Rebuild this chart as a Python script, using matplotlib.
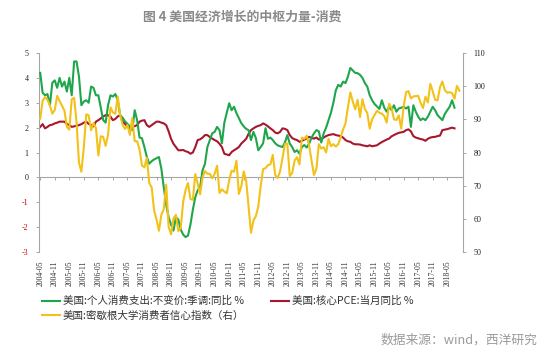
import matplotlib
matplotlib.use("Agg")
import matplotlib.pyplot as plt

# ---------------- data (monthly, starting 2004-05) ----------------
tick_labels = ["2004-05", "2004-11", "2005-05", "2005-11", "2006-05", "2006-11",
               "2007-05", "2007-11", "2008-05", "2008-11", "2009-05", "2009-11",
               "2010-05", "2010-11", "2011-05", "2011-11", "2012-05", "2012-11",
               "2013-05", "2013-11", "2014-05", "2014-11", "2015-05", "2015-11",
               "2016-05", "2016-11", "2017-05", "2017-11", "2018-05"]

# 美国:个人消费支出:不变价:季调:同比 %
pce_real = [4.20, 3.40, 3.30, 3.35, 2.90, 3.80, 3.90, 3.60, 4.00, 3.65,
            3.85, 3.45, 4.00, 3.30, 4.66, 4.66, 4.05, 2.90, 3.05, 3.10,
            3.00, 3.65, 3.60, 3.30, 3.30, 2.80, 2.30, 2.20, 2.90, 3.30,
            3.25, 3.35, 3.10, 2.50, 2.40, 2.25, 2.15, 2.05, 1.90, 2.70,
            2.30, 1.60, 1.57, 1.22, 0.82, 0.55, 0.65, 0.72, 0.77, 0.82,
            0.35, -0.40, -1.10, -1.60, -1.90, -2.14, -1.60, -1.70, -2.10, -2.30,
            -2.40, -2.34, -1.90, -1.30, -0.80, -0.52, -0.40, 0.28, 0.55, 1.22,
            1.50, 1.77, 1.83, 2.03, 1.90, 1.37, 2.20, 2.60, 2.98, 2.70,
            2.84, 2.58, 2.38, 2.18, 2.05, 1.95, 1.90, 1.50, 1.83, 1.58,
            1.09, 1.22, 1.37, 1.98, 1.55, 1.60, 1.50, 1.37, 1.29, 1.25,
            1.22, 1.40, 1.70, 1.36, 1.22, 1.02, 1.09, 0.95, 1.22, 1.30,
            1.20, 1.36, 1.60, 1.77, 1.90, 1.85, 1.40, 1.77, 2.00, 2.30,
            2.60, 3.00, 3.50, 3.72, 3.65, 3.85, 3.79, 4.05, 4.40, 4.30,
            4.20, 4.19, 4.12, 4.00, 3.79, 3.65, 3.30, 3.10, 2.95, 2.85,
            2.75, 3.10, 2.80, 2.64, 2.84, 2.70, 2.90, 2.64, 2.77, 2.80,
            2.84, 2.77, 2.84, 2.03, 2.90, 2.64, 2.44, 2.30, 2.37, 2.30,
            2.44, 2.64, 2.84, 2.70, 2.50, 2.40, 2.30, 2.55, 2.70, 2.84,
            3.10, 2.80]

# 美国:核心PCE:当月同比 %
core_pce = [2.03, 2.14, 1.97, 2.03, 2.10, 2.12, 2.17, 2.20, 2.24, 2.24,
            2.24, 2.15, 2.10, 2.03, 2.05, 2.08, 2.10, 2.14, 2.20, 2.24,
            2.15, 2.10, 2.05, 2.24, 2.30, 2.37, 2.45, 2.50, 2.50, 2.44,
            2.30, 2.35, 2.45, 2.50, 2.24, 2.15, 2.05, 1.97, 2.03, 2.06,
            2.10, 2.24, 2.28, 2.30, 2.10, 2.03, 2.10, 2.17, 2.24, 2.24,
            2.20, 2.17, 2.10, 1.85, 1.55, 1.35, 1.22, 1.09, 1.09, 1.10,
            1.05, 1.02, 0.95, 1.00, 1.22, 1.50, 1.53, 1.60, 1.70, 1.70,
            1.62, 1.56, 1.50, 1.45, 1.35, 1.22, 0.95, 0.92, 0.89, 1.02,
            1.09, 1.15, 1.22, 1.36, 1.45, 1.55, 1.75, 1.90, 1.97, 2.03,
            2.07, 2.10, 2.17, 2.12, 2.05, 1.97, 1.90, 1.80, 1.77, 1.83,
            1.97, 1.95, 1.90, 1.70, 1.58, 1.53, 1.50, 1.43, 1.47, 1.52,
            1.56, 1.63, 1.58, 1.56, 1.60, 1.52, 1.55, 1.60, 1.66, 1.70,
            1.72, 1.74, 1.70, 1.68, 1.66, 1.60, 1.50, 1.45, 1.43, 1.36,
            1.33, 1.33, 1.32, 1.29, 1.27, 1.25, 1.29, 1.25, 1.27, 1.29,
            1.36, 1.42, 1.47, 1.52, 1.56, 1.65, 1.70, 1.75, 1.79, 1.81,
            1.83, 1.90, 1.93, 1.85, 1.66, 1.60, 1.57, 1.54, 1.52, 1.47,
            1.55, 1.60, 1.62, 1.63, 1.66, 1.68, 1.90, 1.92, 1.94, 1.97,
            2.00, 1.97]

# 美国:密歇根大学消费者信心指数 (右)
sentiment = [90.2, 95.6, 96.7, 95.9, 94.2, 91.7, 92.8, 97.1,
             95.5, 94.1, 92.6, 87.7, 86.9, 96.0, 96.5, 89.1, 76.9, 74.2, 81.6, 91.5,
             91.2, 86.7, 88.9, 87.4, 79.1, 84.9, 84.7, 82.0, 85.4, 93.6, 92.1, 91.7,
             96.9, 91.3, 88.4, 87.1, 88.3, 85.3, 90.4, 83.4, 83.4, 80.9, 76.1, 75.5,
             78.4, 70.8, 69.5, 62.6, 59.8, 56.4, 61.2, 63.0, 70.3, 57.6, 55.3, 60.1,
             61.2, 56.3, 57.3, 65.1, 68.7, 70.8, 66.0, 65.7, 73.5, 70.6, 67.4, 72.5,
             74.4, 73.6, 73.6, 72.2, 73.6, 76.0, 67.8, 68.9, 68.2, 67.7, 71.6, 74.5,
             74.2, 77.5, 67.5, 69.8, 74.3, 71.5, 63.7, 55.8, 59.5, 60.8, 63.7, 69.9,
             75.0, 75.3, 76.2, 76.4, 79.3, 73.2, 72.3, 74.3, 78.3, 82.6, 82.7, 72.9,
             73.8, 77.6, 78.6, 76.4, 84.5, 84.1, 85.1, 82.1, 77.5, 73.2, 75.1, 82.5,
             81.2, 81.6, 80.0, 84.1, 81.9, 82.5, 81.8, 82.5, 84.6, 86.9, 88.8, 93.6,
             98.1, 95.4, 93.0, 95.9, 90.7, 96.1, 93.1, 91.9, 87.2, 90.0, 91.3, 92.6,
             92.0, 91.7, 91.0, 89.0, 94.7, 93.5, 90.0, 89.8, 91.2, 87.2, 93.8, 98.2,
             98.5, 96.3, 96.9, 97.0, 97.1, 95.0, 93.4, 96.8, 95.1, 100.7, 98.5, 95.9,
             95.7, 99.7, 101.4, 98.8, 98.0, 98.2, 97.9, 96.2, 100.1, 98.6]

legend_labels = ["美国:个人消费支出:不变价:季调:同比 %",
                 "美国:核心PCE:当月同比 %",
                 "美国:密歇根大学消费者信心指数（右）"]

# ---------------- style ----------------
cjk = ["Noto Sans CJK SC", "DejaVu Sans"]
serif = "Liberation Serif"
c_green = "#1fa64b"
c_red = "#a8172c"
c_yellow = "#f2c21a"
c_axis = "#a6a6a6"

fig = plt.figure(figsize=(5.5, 3.54), dpi=100)
ax = fig.add_axes([39 / 550, 1 - 252 / 354, (463 - 39) / 550, (252 - 53) / 354])
ax2 = ax.twinx()

x_g = list(range(len(pce_real)))
x_r = list(range(len(core_pce)))
x_y = list(range(len(sentiment)))

l1, = ax.plot(x_g, pce_real, color=c_green, lw=1.5, zorder=3)
l2, = ax.plot(x_r, core_pce, color=c_red, lw=1.5, zorder=2)
l3, = ax2.plot(x_y, sentiment, color=c_yellow, lw=1.5)

ax.set_xlim(-0.5, 174.5)
ax.set_ylim(-3, 5)
ax2.set_ylim(50, 110)

# left axis
ax.set_yticks(range(-3, 6))
ax.set_yticklabels([str(v) for v in range(-3, 6)], fontfamily=serif, fontsize=5.8)
for v, t in zip(range(-3, 6), ax.get_yticklabels()):
    t.set_color("#c00000" if v < 0 else "#222222")
ax.tick_params(axis="y", length=2.5, width=0.7, color=c_axis, pad=5)

# right axis
ax2.set_yticks(range(50, 111, 10))
ax2.set_yticklabels([str(v) for v in range(50, 111, 10)], fontfamily=serif,
                    fontsize=5.8, color="#222222")
ax2.tick_params(axis="y", length=2.5, width=0.7, color=c_axis, pad=5)

# spines
for s in ["top", "right"]:
    ax.spines[s].set_visible(False)
for s in ["top", "left", "bottom"]:
    ax2.spines[s].set_visible(False)
ax.spines["left"].set_color(c_axis)
ax.spines["left"].set_linewidth(0.8)
ax2.spines["right"].set_color(c_axis)
ax2.spines["right"].set_linewidth(0.8)
ax.spines["bottom"].set_position(("data", 0))
ax.spines["bottom"].set_color(c_axis)
ax.spines["bottom"].set_linewidth(0.8)

xticks = list(range(0, 6 * len(tick_labels), 6))
ax.set_xticks(xticks)
ax.tick_params(axis="x", labelbottom=False, length=2.5, width=0.7, color=c_axis)

sec = ax.secondary_xaxis("bottom")
sec.set_xticks(xticks)
sec.set_xticklabels(tick_labels, rotation=90, fontfamily=serif, fontsize=5.6,
                    color="#333333")
sec.tick_params(length=0, pad=6)
sec.spines["bottom"].set_visible(False)

# title and source
fig.text(242 / 550, 1 - 17 / 354, "图 4 美国经济增长的中枢力量-消费", ha="center",
         va="center", fontsize=9.3, fontweight="bold", color="#8a8a8a", family=cjk)
fig.text(537 / 550, 1 - 340 / 354, "数据来源：wind，西洋研究", ha="right",
         va="center", fontsize=9.2, color="#9a9a9a", family=cjk)

# legend
leg = fig.legend([l1, l3, l2], [legend_labels[0], legend_labels[2], legend_labels[1]],
                 ncol=2, loc="upper left", bbox_to_anchor=(42 / 550, 1 - 296 / 354),
                 frameon=False, prop={"family": cjk, "size": 7.6},
                 handlelength=1.7, handletextpad=0.25, columnspacing=2.6,
                 labelspacing=0.45, borderpad=0, borderaxespad=0)
for t in leg.get_texts():
    t.set_color("#333333")

fig.savefig("out.png", dpi=100, facecolor="white")
